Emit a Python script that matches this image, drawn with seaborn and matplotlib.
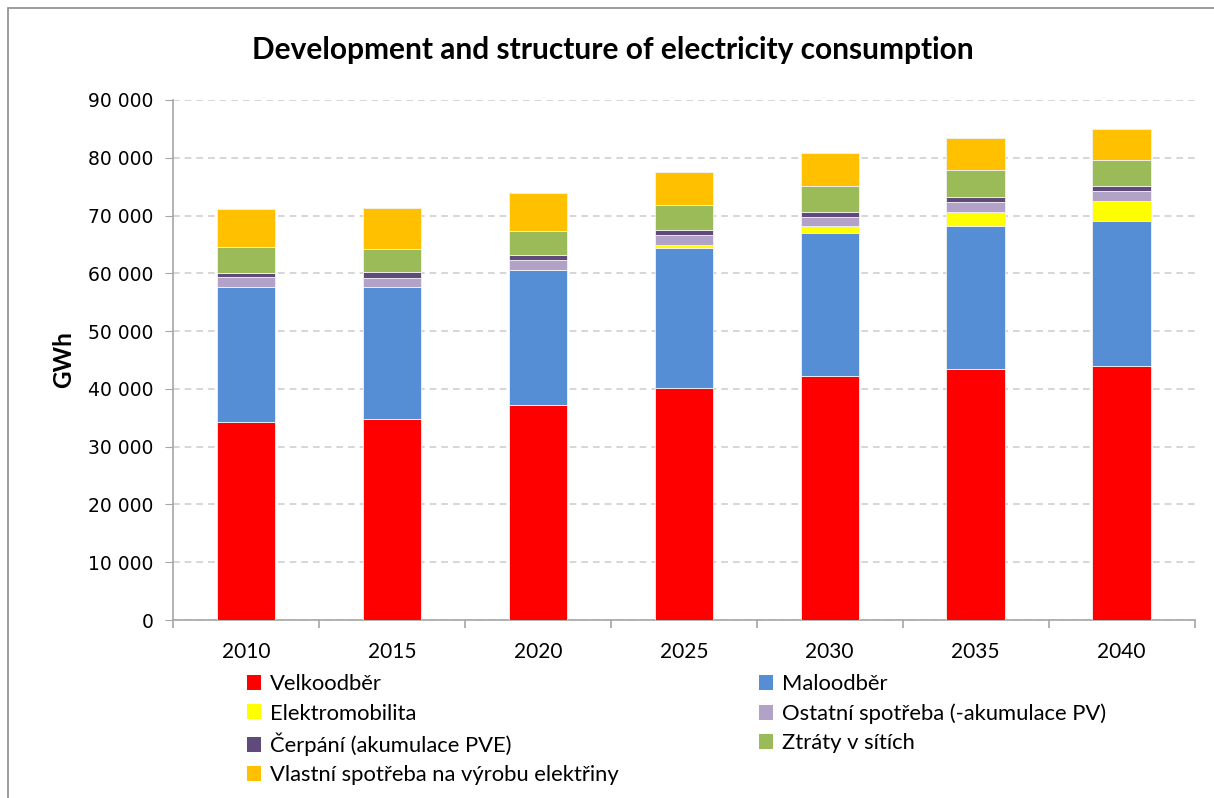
import matplotlib
matplotlib.use("Agg")
import matplotlib.pyplot as plt
import matplotlib.patches as mpatches
from matplotlib.ticker import FuncFormatter, FixedLocator
import seaborn as sns
import pandas as pd
import numpy as np

# --- data (GWh) ---
roky = ["2010", "2015", "2020", "2025", "2030", "2035", "2040"]
velkoodber = [34200, 34800, 37200, 40200, 42200, 43400, 44000]
maloodber = [23400, 22800, 23300, 24250, 24700, 24850, 25100]
elektromobilita = [0, 50, 100, 450, 1300, 2350, 3500]
ostatni = [1800, 1600, 1700, 1700, 1550, 1700, 1600]
cerpani = [700, 1000, 900, 900, 950, 900, 1000]
ztraty = [4500, 3900, 4100, 4400, 4400, 4600, 4500]
vlastni = [6500, 7200, 6600, 5700, 5700, 5600, 5200]

serie = [
    ("Velkoodběr", velkoodber, "#FF0000"),
    ("Maloodběr", maloodber, "#558ED5"),
    ("Elektromobilita", elektromobilita, "#FFFF00"),
    ("Ostatní spotřeba (-akumulace PV)", ostatni, "#B3A2C7"),
    ("Čerpání (akumulace PVE)", cerpani, "#604A7B"),
    ("Ztráty v sítích", ztraty, "#9BBB59"),
    ("Vlastní spotřeba na výrobu elektřiny", vlastni, "#FFC000"),
]

sns.set_style("white")
plt.rcParams["font.family"] = ["Lato", "DejaVu Sans"]
plt.rcParams["text.color"] = "black"
plt.rcParams["axes.labelcolor"] = "black"
plt.rcParams["xtick.color"] = "black"
plt.rcParams["ytick.color"] = "black"

fig = plt.figure(figsize=(12.14, 7.98), dpi=100)
ax = fig.add_axes([0.1425, 0.223, 0.8415, 0.6517])

# outer chart border
fig.patches.append(mpatches.Rectangle((8 / 1214, -0.05), 1.2, (798 - 8) / 798 + 0.05,
                                      transform=fig.transFigure, fill=False,
                                      edgecolor="#8C8C8C", linewidth=1.2))

spodek = np.zeros(len(roky))
handles = []
for nazev, hodnoty, barva in serie:
    df = pd.DataFrame({"rok": roky, "hodnota": hodnoty})
    sns.barplot(data=df, x="rok", y="hodnota", color=barva, width=0.4,
                bottom=spodek.copy(), ax=ax, edgecolor="#F2F2F2", linewidth=0.6,
                saturation=1, zorder=3)
    spodek += np.array(hodnoty)
    handles.append(mpatches.Patch(facecolor=barva, edgecolor="none", label=nazev))

ax.set_ylim(0, 90000)
ax.set_xlim(-0.5, len(roky) - 0.5)
ax.set_yticks(range(0, 90001, 10000))
ax.yaxis.set_major_formatter(FuncFormatter(lambda v, p: f"{int(v):,}".replace(",", " ")))
ax.yaxis.grid(True, linestyle=(0, (4, 3)), color="#D0D0D0", linewidth=1.2, zorder=0)
ax.xaxis.grid(False)

for s in ["top", "right"]:
    ax.spines[s].set_visible(False)
for s in ["left", "bottom"]:
    ax.spines[s].set_color("#A6A6A6")
    ax.spines[s].set_linewidth(1.2)

ax.tick_params(axis="y", which="major", left=True, length=6, color="#A6A6A6",
               labelsize=13.5, pad=8, labelcolor="black")
for lab in ax.get_yticklabels():
    lab.set_fontfamily("DejaVu Sans")
ax.tick_params(axis="x", which="major", bottom=False, labelsize=15, pad=12,
               labelcolor="black")
ax.xaxis.set_minor_locator(FixedLocator(np.arange(-0.5, len(roky), 1.0)))
ax.tick_params(axis="x", which="minor", bottom=True, length=6, color="#A6A6A6", width=1.2)

ax.set_xlabel("")
ax.set_ylabel("GWh", fontsize=17.5, fontweight="bold", labelpad=9)
fig.suptitle("Development and structure of electricity consumption",
             x=0.505, y=0.955, fontsize=21.5, fontweight="bold", color="black")

poradi = [0, 2, 4, 6, 1, 3, 5]
fig.legend([handles[i] for i in poradi], [handles[i].get_label() for i in poradi],
           ncol=2, loc="upper left", bbox_to_anchor=(0.196, 0.166), frameon=False,
           fontsize=15.8, handlelength=0.65, handleheight=0.65, handletextpad=0.4,
           columnspacing=6.4, labelspacing=0.42, borderaxespad=0)

fig.savefig("out.png", dpi=100)
